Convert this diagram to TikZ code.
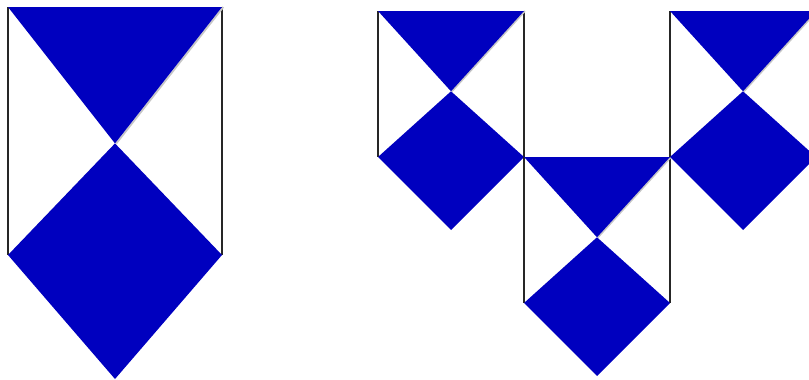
\documentclass[tikz,border=0pt]{standalone}
\usepackage{xcolor}
\definecolor{tile}{HTML}{0000BF}

\begin{document}
\begin{tikzpicture}[
    x=0.03cm, y=0.03cm,
    side/.style={draw=black!85, line width=1.1pt},
    shade/.style={draw=gray!45, line width=1.6pt},
    piece/.style={fill=tile},
    flag/.pic={
        % frame sides
        \draw[side] (-1,0) -- (-1,-2);
        \draw[side] (1,0) -- (1,-2);
        % soft edge along the upper triangle
        \draw[shade] (1.012,0) -- (0.012,-1.1);
        % upper triangle and lower diamond
        \fill[piece] (-1,0) -- (1,0) -- (0,-1.1) -- cycle;
        \fill[piece] (0,-1.1) -- (1,-2) -- (0,-3) -- (-1,-2) -- cycle;
    },
]
    \useasboundingbox (0,0) rectangle (809,379);
    \clip (0,0) rectangle (809,379);

    % Single large flag
    \pic[xscale=107, yscale=124] at (115,372) {flag};

    % Three small flags
    \pic[xscale=73, yscale=73] at (451,368) {flag};
    \pic[xscale=73, yscale=73] at (597,222) {flag};
    \pic[xscale=73, yscale=73] at (743,368) {flag};
\end{tikzpicture}
\end{document}
